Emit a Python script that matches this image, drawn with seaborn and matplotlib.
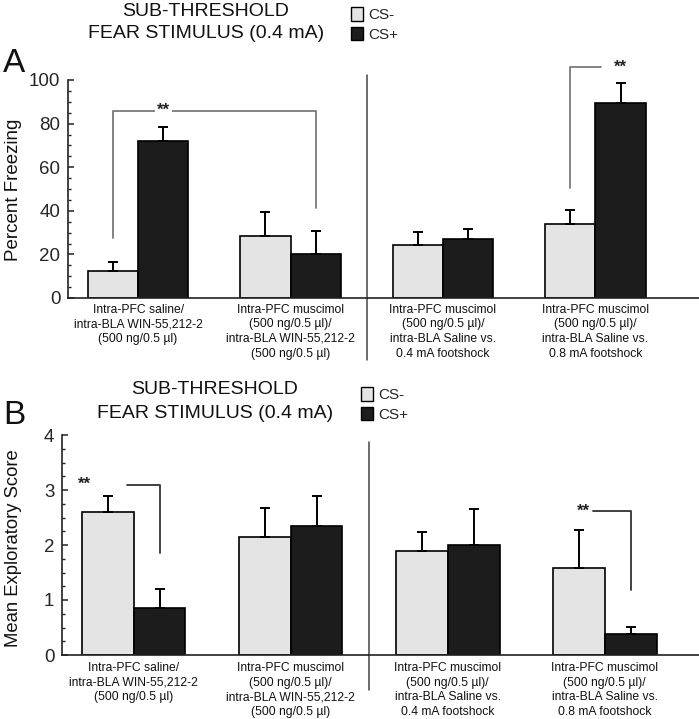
import matplotlib
matplotlib.use('Agg')
import matplotlib.pyplot as plt
import seaborn as sns
import pandas as pd
import numpy as np
from matplotlib.patches import Patch
from matplotlib.ticker import MultipleLocator

sns.set_theme(style='ticks')
plt.rcParams['font.family'] = ['Liberation Sans', 'DejaVu Sans']

# ---- data ----
groups = [
    "Intra-PFC saline/\nintra-BLA WIN-55,212-2\n(500 ng/0.5 \u00b5l)",
    "Intra-PFC muscimol\n(500 ng/0.5 \u00b5l)/\nintra-BLA WIN-55,212-2\n(500 ng/0.5 \u00b5l)",
    "Intra-PFC muscimol\n(500 ng/0.5 \u00b5l)/\nintra-BLA Saline vs.\n0.4 mA footshock",
    "Intra-PFC muscimol\n(500 ng/0.5 \u00b5l)/\nintra-BLA Saline vs.\n0.8 mA footshock",
]
stimuli = ['CS-', 'CS+']

freeze_csm = [12.4, 28.4, 24.3, 34.0]
freeze_csm_sem = [4.1, 11.0, 6.0, 6.4]
freeze_csp = [72.0, 20.2, 27.0, 89.6]
freeze_csp_sem = [6.6, 10.5, 4.6, 9.2]

explore_csm = [2.60, 2.15, 1.89, 1.58]
explore_csm_sem = [0.30, 0.52, 0.35, 0.70]
explore_csp = [0.85, 2.35, 2.00, 0.38]
explore_csp_sem = [0.35, 0.55, 0.65, 0.13]

light = '#e4e4e4'
dark = '#1c1c1c'
bracket_col = '#7a7a7a'

W, H = 699, 719
fig = plt.figure(figsize=(W / 100, H / 100), dpi=100)
fig.patch.set_facecolor('white')


def rect(left, top, right, bottom):
    return [left / W, 1 - bottom / H, (right - left) / W, (bottom - top) / H]


def draw_panel(ax, csm, csm_sem, csp, csp_sem, ymax, major, minor, xlim, xpad):
    df = pd.DataFrame({
        'group': groups * 2,
        'stim': [stimuli[0]] * len(groups) + [stimuli[1]] * len(groups),
        'value': csm + csp,
    })
    sns.barplot(data=df, x='group', y='value', hue='stim', order=groups,
                hue_order=stimuli, palette=[light, dark], edgecolor='black',
                linewidth=1.2, width=0.66, gap=0, errorbar=None, legend=False,
                saturation=1, ax=ax)
    centers = []
    for cont, sem in zip(ax.containers, [csm_sem, csp_sem]):
        xs = [b.get_x() + b.get_width() / 2 for b in cont]
        hs = [b.get_height() for b in cont]
        ax.errorbar(xs, hs, yerr=[np.zeros(len(sem)), sem], fmt='none',
                    ecolor='black', elinewidth=1.4, capsize=3.6, capthick=1.4,
                    zorder=1)
        centers.append(xs)

    ax.set_xlim(*xlim)
    ax.set_ylim(0, ymax)
    ax.set_xlabel('')
    ax.set_ylabel('')
    ax.yaxis.set_major_locator(MultipleLocator(major))
    ax.yaxis.set_minor_locator(MultipleLocator(minor))
    ax.tick_params(axis='y', which='major', direction='in', length=4, width=1.1,
                   labelsize=13.5, color='#222222', pad=5.5)
    ax.tick_params(axis='y', which='minor', direction='in', length=2.5,
                   width=1.0, color='#222222')
    ax.tick_params(axis='x', length=0, pad=xpad)
    for t in ax.get_xticklabels():
        t.set_fontsize(8.7)
        t.set_linespacing(1.3)
        t.set_color('#111111')
    for s in ['top', 'right']:
        ax.spines[s].set_visible(False)
    ax.spines['left'].set_bounds(0, ymax)
    for s in ['left', 'bottom']:
        ax.spines[s].set_color('#222222')
        ax.spines[s].set_linewidth(1.2)
    ax.set_facecolor('white')
    return centers


# ---- panel A ----
axA = fig.add_axes(rect(68, 80, 699, 298))
cA = draw_panel(axA, freeze_csm, freeze_csm_sem, freeze_csp, freeze_csp_sem,
                100, 20, 5, (-0.46, 3.68), 4)
fig.text(14 / W, 1 - 190 / H, 'Percent Freezing', rotation=90, ha='center',
         va='center', fontsize=13.5, color='#111111')

# divider
axA.plot([1.5, 1.5], [1.023, -0.285], color='#444444', lw=1.1,
         transform=axA.get_xaxis_transform(), clip_on=False)

# significance brackets
xl, xr = cA[0][0], cA[1][1]
axA.plot([xl, xl, xr, xr], [27.5, 86, 86, 41.3], color=bracket_col, lw=1.3,
         clip_on=False)
axA.text(xl + 0.33, 86, '**', ha='center', va='center', fontsize=12,
         fontweight='bold', color='#222222',
         bbox=dict(facecolor='white', edgecolor='none', pad=1.5))
x4 = cA[0][3]
axA.plot([x4, x4, x4 + 0.2], [50.5, 106, 106], color=bracket_col, lw=1.3,
         clip_on=False)
axA.text(cA[1][3], 106, '**', ha='center', va='center', fontsize=12,
         fontweight='bold', color='#222222')

# ---- panel B ----
axB = fig.add_axes(rect(62, 435, 699, 655))
cB = draw_panel(axB, explore_csm, explore_csm_sem, explore_csp, explore_csp_sem,
                4, 1, 0.25, (-0.456, 3.6), 5)
fig.text(14 / W, 1 - 548 / H, 'Mean Exploratory Score', rotation=90,
         ha='center', va='center', fontsize=13.3, color='#111111')

axB.plot([1.5, 1.5], [0.968, -0.16], color='#444444', lw=1.1,
         transform=axB.get_xaxis_transform(), clip_on=False)

xb1 = cB[1][0]
axB.plot([xb1 - 0.21, xb1, xb1], [3.1, 3.1, 1.85], color='#333333', lw=1.3,
         clip_on=False)
axB.text(xb1 - 0.48, 3.1, '**', ha='center', va='center', fontsize=12,
         fontweight='bold', color='#222222')
xb4 = cB[1][3]
axB.plot([xb4 - 0.24, xb4, xb4], [2.62, 2.62, 1.18], color='#333333', lw=1.3,
         clip_on=False)
axB.text(xb4 - 0.30, 2.62, '**', ha='center', va='center', fontsize=12,
         fontweight='bold', color='#222222')

# ---- titles, panel letters, legends ----
for t1, t2, cx, letter, lx, ly, leg_x, leg_y in [
        (11, 34, 206, 'A', 3, 72, 351, 7),
        (390, 413, 215, 'B', 3, 424, 361, 387)]:
    fig.text(cx / W, 1 - t1 / H, 'SUB-THRESHOLD', ha='center', va='center',
             fontsize=14, color='#111111')
    fig.text(cx / W, 1 - t2 / H, 'FEAR STIMULUS (0.4 mA)', ha='center',
             va='center', fontsize=14, color='#111111')
    fig.text(lx / W, 1 - ly / H, letter, ha='left', va='baseline', fontsize=24,
             color='#111111')
    handles = [Patch(facecolor=light, edgecolor='black', lw=1.0),
               Patch(facecolor=dark, edgecolor='black', lw=1.0)]
    fig.legend(handles, stimuli, loc='upper left',
               bbox_to_anchor=(leg_x / W, 1 - leg_y / H), frameon=False,
               fontsize=11, handlelength=0.8, handleheight=1.0,
               labelspacing=0.3, handletextpad=0.35, borderpad=0,
               borderaxespad=0)

fig.savefig('out.png', dpi=100, facecolor='white')
